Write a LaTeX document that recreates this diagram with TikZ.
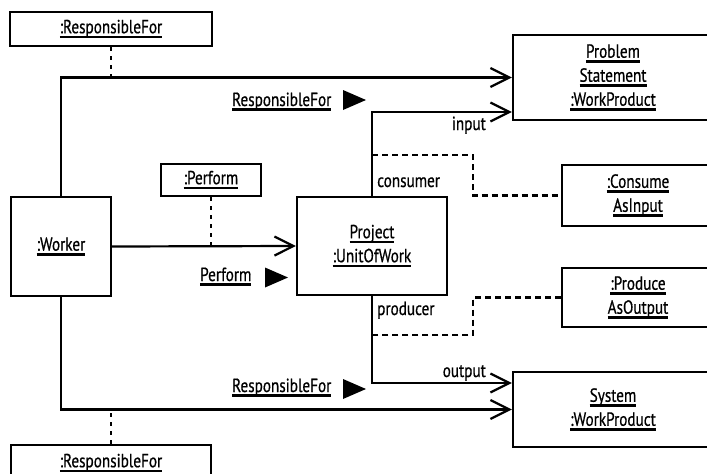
\documentclass[tikz,border=0pt]{standalone}
\usepackage{fontspec}
\setmainfont{PT Sans}[FakeStretch=0.8,FakeBold=0.6]
\usetikzlibrary{arrows.meta}

% underlined object / link names, with a heavy rule below the baseline
\newcommand\uln[1]{\setbox0=\hbox{#1}\rlap{\rule[-5pt]{\wd0}{2.6pt}}\box0}

\tikzset{
  obj/.style={draw, line width=2.2pt, inner sep=0pt, align=center,
              font=\fontsize{19}{24}\selectfont},
  link/.style={line width=2.2pt},
  nav/.style={link, line join=miter,
              -{Straight Barb[length=19pt,width=19pt]}},
  dotlink/.style={line width=2.6pt, dash pattern=on 4pt off 5pt},
  dashlink/.style={line width=2.2pt, dash pattern=on 6pt off 4pt},
  lbl/.style={inner sep=0pt, font=\fontsize{19}{24}\selectfont},
  pics/dirmark/.style={code={\fill (0,-10) -- (23,0) -- (0,10) -- cycle;}}
}

\begin{document}
\begin{tikzpicture}[x=1pt,y=-1pt]
\useasboundingbox (0,0) rectangle (707,474);
\clip (0,0) rectangle (707,474);

% objects
\node[obj, minimum width=202pt, minimum height=34pt] (rtop) at (111,29) {\uln{:ResponsibleFor}};
\node[obj, minimum width=200pt, minimum height=36pt] (rbot) at (111,463) {\uln{:ResponsibleFor}};
\node[obj, minimum width=100pt, minimum height=99pt] (worker) at (61,246.5) {\uln{:Worker}};
\node[obj, minimum width=100pt, minimum height=32pt] (perform) at (211,180) {\uln{:Perform}};
\node[obj, minimum width=150pt, minimum height=98pt] (project) at (372,246) {\uln{Project}\\\uln{:UnitOfWork}};
\node[obj, minimum width=200pt, minimum height=85pt] (problem) at (613,77.5) {\uln{Problem}\\\uln{Statement}\\\uln{:WorkProduct}};
\node[obj, minimum width=152pt, minimum height=61pt] (consume) at (638,195.5) {\uln{:Consume}\\\uln{AsInput}};
\node[obj, minimum width=152pt, minimum height=59pt] (produce) at (638,297.5) {\uln{:Produce}\\\uln{AsOutput}};
\node[obj, minimum width=200pt, minimum height=75pt] (system) at (613,409.5) {\uln{System}\\\uln{:WorkProduct}};

% bend points of the links
\coordinate (inTip) at ([yshift=-34.5pt]problem.west);
\coordinate (outTip) at ([yshift=26.5pt]system.west);
\coordinate (cjoin) at (372,155);
\coordinate (cbend) at (473,155);
\coordinate (pjoin) at (372,335);
\coordinate (pbend) at (473,335);

% ResponsibleFor links
\draw[nav] (worker.north) |- (problem.west);
\draw[nav] (worker.south) |- (system.west);
\draw[dotlink] (rtop.south) -- (rtop.south |- problem.west);
\draw[dotlink] (rbot.north) -- (rbot.north |- system.west);

% Perform link
\draw[nav] (worker.east) -- (project.west);
\draw[dotlink] (perform.south) -- (perform.south |- worker.east);

% input / output links
\draw[nav] (project.north) |- (inTip);
\draw[nav] (project.south) |- (outTip);
\draw[dashlink] (cjoin) -- (cbend) |- (consume.west);
\draw[dashlink] (produce.west) -| (pbend) -- (pjoin);

% role and link names
\node[lbl, anchor=base west] (lconsumer) at (377,187) {consumer};
\node[lbl, anchor=base west] (lproducer) at (377,315) {producer};
\node[lbl, anchor=base east] (linput) at (486,130) {input};
\node[lbl, anchor=base east] (loutput) at (486,377) {output};
\node[lbl, anchor=base west] (lrtop) at (232,106) {\uln{ResponsibleFor}};
\node[lbl, anchor=base west] (lrbot) at (232,392) {\uln{ResponsibleFor}};
\node[lbl, anchor=base west] (lperf) at (200,281) {\uln{Perform}};

% reading-direction marks
\pic at (343,100) {dirmark};
\pic at (343,389) {dirmark};
\pic at (265,277.5) {dirmark};
\end{tikzpicture}
\end{document}
